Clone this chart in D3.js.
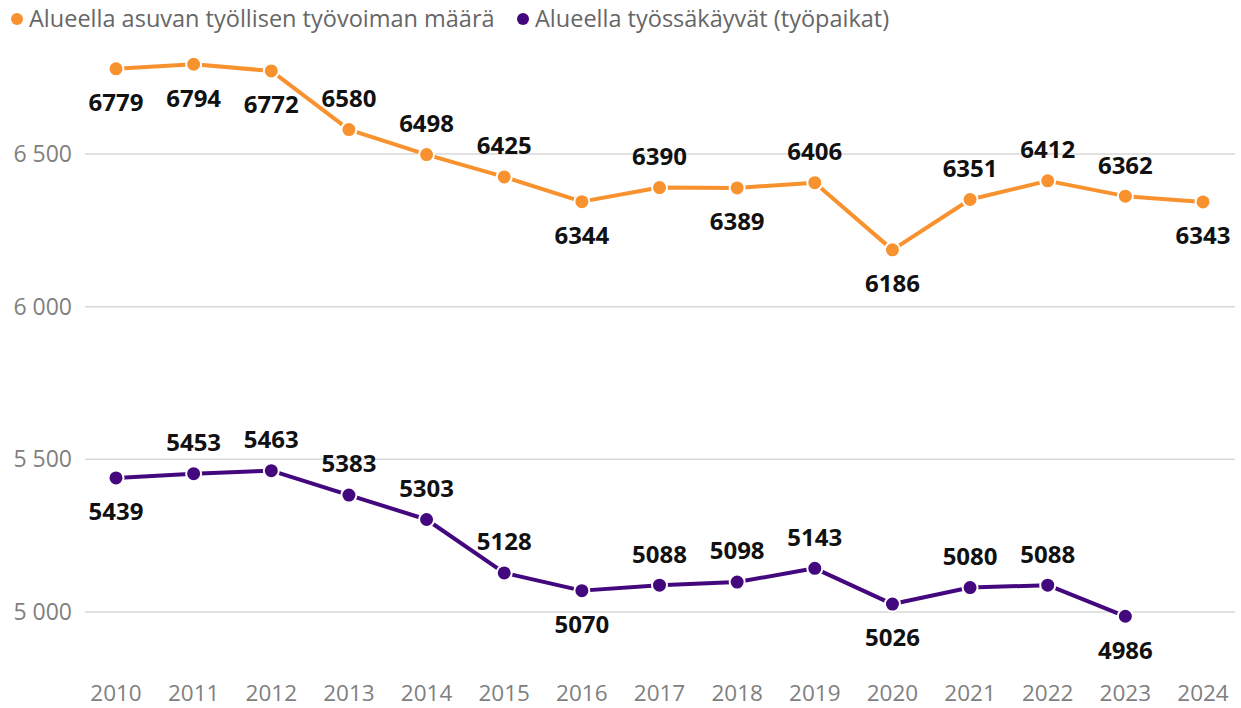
<!DOCTYPE html>
<html>
<head>
<meta charset="utf-8">
<script src="https://cdn.jsdelivr.net/npm/d3@7"></script>
<style>
  body { margin: 0; background: #fff; }
  svg text { font-family: "Segoe UI", "Open Sans", "Noto Sans", sans-serif; }
</style>
</head>
<body>
<div id="chart"></div>
<script>
// ── data ──────────────────────────────────────────
const years = ['2010','2011','2012','2013','2014','2015','2016','2017','2018','2019','2020','2021','2022','2023','2024'];
const residentWorkforce = [6779, 6794, 6772, 6580, 6498, 6425, 6344, 6390, 6389, 6406, 6186, 6351, 6412, 6362, 6343];
const residentLabelPos = ['b','b','b','a','a','a','b','a','b','a','b','a','a','a','b'];
const jobsInArea = [5439, 5453, 5463, 5383, 5303, 5128, 5070, 5088, 5098, 5143, 5026, 5080, 5088, 4986, null];
const jobsLabelPos = ['b','a','a','a','a','a','b','a','a','a','b','a','a','b', null];
const yTicks = [5000, 5500, 6000, 6500];
const seriesNames = ['Alueella asuvan työllisen työvoiman määrä', 'Alueella työssäkäyvät (työpaikat)'];

const W = 1241, H = 708;
const ORANGE = '#F7922E', PURPLE = '#44087E';

const svg = d3.select('#chart').append('svg').attr('width', W).attr('height', H);

const x = d3.scalePoint().domain(years).range([116, 1203]);
const y = d3.scaleLinear().domain([5000, 6500]).range([612, 154]);

// gridlines + y ticks
svg.append('g').selectAll('line').data(yTicks).join('line')
     .attr('x1', 85).attr('x2', 1235)
     .attr('y1', d => y(d)).attr('y2', d => y(d))
     .attr('stroke', '#d9d9d9').attr('stroke-width', 1.5);

svg.append('g').selectAll('text').data(yTicks).join('text')
     .attr('x', 72).attr('y', d => y(d)).attr('dy', '0.35em')
     .attr('text-anchor', 'end').attr('font-size', '23px').attr('fill', '#808080')
     .text(d => d3.format(',')(d).replace(',', ' '));

// x labels
svg.append('g').selectAll('text').data(years).join('text')
     .attr('x', d => x(d)).attr('y', 693).attr('dy', '0.35em')
     .attr('text-anchor', 'middle').attr('font-size', '22.5px').attr('fill', '#808080')
     .text(d => d);

function drawSeries(values, pos, color) {
     const pts = years.map((yr, i) => ({ yr, v: values[i], p: pos[i] })).filter(d => d.v != null);
     const line = d3.line().x(d => x(d.yr)).y(d => y(d.v));
     svg.append('path').datum(pts)
          .attr('d', line).attr('fill', 'none')
          .attr('stroke', color).attr('stroke-width', 4).attr('stroke-linejoin', 'round');
     svg.append('g').selectAll('circle').data(pts).join('circle')
          .attr('cx', d => x(d.yr)).attr('cy', d => y(d.v)).attr('r', 7.5)
          .attr('fill', color).attr('stroke', '#fff').attr('stroke-width', 2);
     svg.append('g').selectAll('text').data(pts).join('text')
          .attr('x', d => x(d.yr))
          .attr('y', d => y(d.v) + (d.p === 'b' ? 34 : -31))
          .attr('dy', '0.35em').attr('text-anchor', 'middle')
          .attr('font-size', '24px').attr('font-weight', 'bold').attr('fill', '#111')
          .text(d => d.v);
}

drawSeries(residentWorkforce, residentLabelPos, ORANGE);
drawSeries(jobsInArea, jobsLabelPos, PURPLE);

// legend
const legendX = [17, 523];
const lg = svg.append('g');
seriesNames.forEach((name, i) => {
     lg.append('circle').attr('cx', legendX[i]).attr('cy', 19).attr('r', 6)
          .attr('fill', i === 0 ? ORANGE : PURPLE);
     lg.append('text').attr('x', legendX[i] + 12).attr('y', 19).attr('dy', '0.35em')
          .attr('font-size', '23.5px').attr('fill', '#666')
          .text(name);
});
</script>
</body>
</html>
